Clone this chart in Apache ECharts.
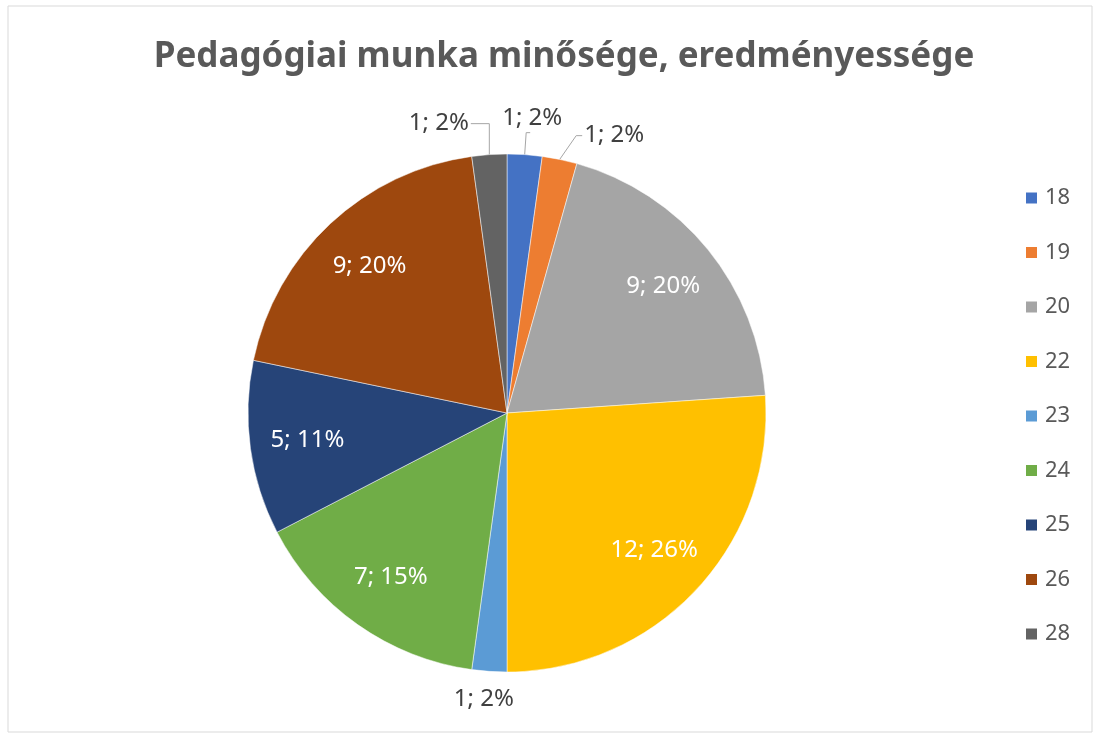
<!DOCTYPE html>
<html>
<head>
<meta charset="utf-8">
<title>Pedagógiai munka minősége, eredményessége</title>
<script src="https://cdn.jsdelivr.net/npm/echarts@6/dist/echarts.min.js"></script>
<style>
  html, body { margin: 0; padding: 0; background: #fff; }
  #chart { width: 1097px; height: 737px; }
</style>
</head>
<body>
<div id="chart"></div>
<script>
// adatok
var categories = ['18', '19', '20', '22', '23', '24', '25', '26', '28'];
var counts = [1, 1, 9, 12, 1, 7, 5, 9, 1];
var percents = [2, 2, 20, 26, 2, 15, 11, 20, 2];
var colors = ['#4472C4', '#ED7D31', '#A5A5A5', '#FFC000', '#5B9BD5', '#70AD47', '#264478', '#9E480E', '#636363'];
var insideLabels = ['20', '22', '24', '25', '26'];

var CX = 507, CY = 413, R = 259;

// kis igazítás a külső címkékhez (Excel-szerű elhelyezés)
var outerShift = { '18': [-33, -14], '19': [-47, -23], '23': [35, 6], '28': [-10, -9] };

var chart = echarts.init(document.getElementById('chart'));

var pieData = categories.map(function (c, i) {
  var inside = insideLabels.indexOf(c) >= 0;
  return {
    name: c,
    value: counts[i],
    itemStyle: { color: colors[i] },
    label: inside
      ? { position: 'inside', color: '#fff' }
      : { position: 'outside', color: '#404040' },
    labelLine: { show: !inside && c !== '23' }
  };
});

var option = {
  animation: false,
  backgroundColor: '#fff',
  title: {
    text: 'Pedagógiai munka minősége, eredményessége',
    left: 559,
    textAlign: 'center',
    top: 35,
    textStyle: {
      fontFamily: 'Noto Sans',
      fontSize: 35,
      fontWeight: 'bold',
      color: '#595959'
    }
  },
  legend: {
    orient: 'vertical',
    left: 1019,
    top: 182,
    itemWidth: 13,
    itemHeight: 13,
    itemGap: 32.5,
    icon: 'rect',
    data: categories,
    textStyle: { fontFamily: 'Noto Sans', fontSize: 22, color: '#595959', padding: [0, 0, 0, 2] }
  },
  graphic: [{
    type: 'rect',
    shape: { x: 8, y: 6, width: 1084, height: 726 },
    style: { fill: 'none', stroke: '#d9d9d9', lineWidth: 1 },
    silent: true
  }],
  series: [{
    type: 'pie',
    center: [CX, CY],
    radius: [0, R],
    startAngle: 90,
    clockwise: true,
    avoidLabelOverlap: true,
    itemStyle: { borderColor: '#fff', borderWidth: 0.5 },
    label: {
      fontFamily: 'Noto Sans',
      fontSize: 24,
      formatter: function (p) {
        return counts[p.dataIndex] + '; ' + percents[p.dataIndex] + '%';
      }
    },
    labelLine: {
      length: 22,
      length2: 4,
      lineStyle: { color: '#a6a6a6', width: 1 }
    },
    labelLayout: function (p) {
      var c = categories[p.dataIndex];
      var r = p.labelRect;
      if (insideLabels.indexOf(c) < 0) {
        var s = outerShift[c] || [0, 0];
        var out = { dx: s[0], dy: s[1] };
        var pts = p.labelLinePoints;
        if (pts && pts.length) {
          var a = pts[0];
          var x0 = r.x + s[0], y0 = r.y + s[1], w = r.width, h = r.height;
          var midY = y0 + h / 2;
          if (a[0] >= x0 && a[0] <= x0 + w) {
            // felette: hagyjuk, hogy az ECharts számolja újra a vonalat
          } else if (x0 > a[0]) {
            out.labelLinePoints = [a, [x0 - 8, midY], [x0 - 2, midY]];
          } else {
            out.labelLinePoints = [a, [a[0], midY], [x0 + w + 2, midY]];
          }
        }
        return out;
      }
      // push inside labels outward to about 0.76 of the radius
      var lx = r.x + r.width / 2;
      var ly = r.y + r.height / 2;
      var k = 0.52;
      return { dx: (lx - CX) * k, dy: (ly - CY) * k };
    },
    data: pieData
  }]
};

chart.setOption(option);
</script>
</body>
</html>
